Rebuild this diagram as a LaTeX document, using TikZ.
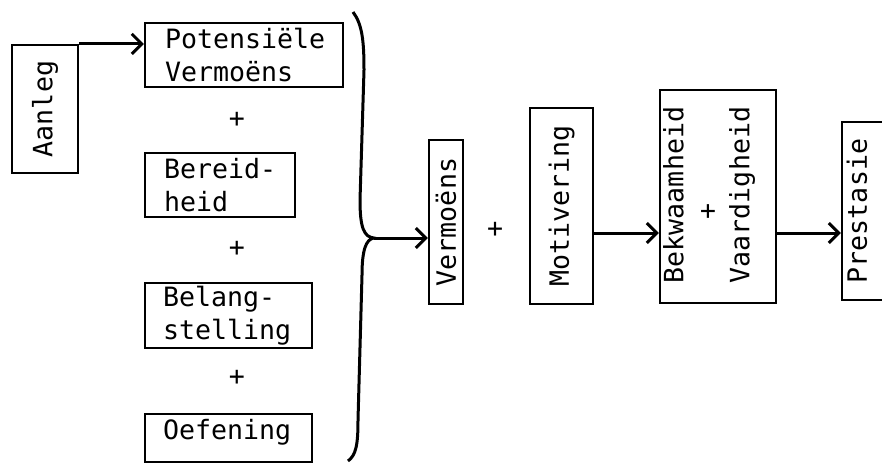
\documentclass[tikz,border=0pt]{standalone}
\usepackage{fontspec}
\setmonofont{DejaVu Sans Mono}
\usetikzlibrary{arrows.meta}
\begin{document}
\begin{tikzpicture}[x=0.5pt,y=-0.5pt,
  every node/.style={font=\ttfamily\fontsize{13.3}{16.5}\selectfont, inner sep=0pt},
  box/.style={draw, line width=1.1pt},
  conn/.style={line width=1.5pt, -{Straight Barb[length=5pt,width=10pt]}},
  bracestyle/.style={line width=1.5pt}]
\useasboundingbox (0,0) rectangle (882,462);
\clip (0,0) rectangle (882,462);
% left column
\node[box, rotate=90, minimum width=64pt, minimum height=33pt] (aan) at (45,109) {Aanleg};
\node[box, minimum height=32pt, text width=79pt, inner xsep=10pt, align=left] (pot) at (244,55) {Potensiële\\Vermoëns};
\node (p1) at (237,120) {+};
\node[box, minimum height=32pt, text width=56pt, inner xsep=9.5pt, align=left] (ber) at (220,185) {Bereid-\\heid};
\node (p2) at (237,249) {+};
\node[box, minimum height=32.5pt, text width=65.5pt, inner xsep=9pt, align=left] (bel) at (228.5,315.5) {Belang-\\stelling};
\node (p3) at (237,378) {+};
\node[box, anchor=north, text width=65.5pt, inner xsep=9pt, inner ysep=2.5pt, text height=10pt, text depth=9pt, align=left] (oef) at (228.5,413) {Oefening};
% brace
\coordinate (tip) at (374,238);
\draw[bracestyle] (353,12) .. controls (362,24) and (364,40) .. (364,70) -- (360,200) .. controls (360,228) and (364,237) .. (tip) .. controls (366,239) and (362,250) .. (362,275) -- (358,420) .. controls (358,445) and (356,455) .. (348,461);
% right part
\node[box, rotate=90, minimum width=82pt, minimum height=17pt] (ver) at (446,222) {Vermoëns};
\node (p4) at (495,230) {+};
\node[box, rotate=90, minimum width=98pt, minimum height=31.5pt] (mot) at (561.5,206) {Motivering};
\node[box, minimum width=58pt, minimum height=106.5pt] (bek) at (718,196.5) {};
\node[rotate=90, align=left] (bekt) at (709,195) {Bekwaamheid\\\phantom{0000}+\\Vaardigheid};
\node[box, minimum width=29pt, minimum height=89pt] (pre) at (871,211) {};
\node[rotate=90] (pret) at (857,211) {Prestasie};
% connectors
\coordinate (row) at (0,233);
\draw[conn] (aan.south east) -- (aan.south east -| pot.west);
\draw[conn] (tip) -- (tip -| ver.north);
\draw[conn] (mot.south |- row) -- (bek.west |- row);
\draw[conn] (bek.east |- row) -- (pre.west |- row);
\end{tikzpicture}
\end{document}
